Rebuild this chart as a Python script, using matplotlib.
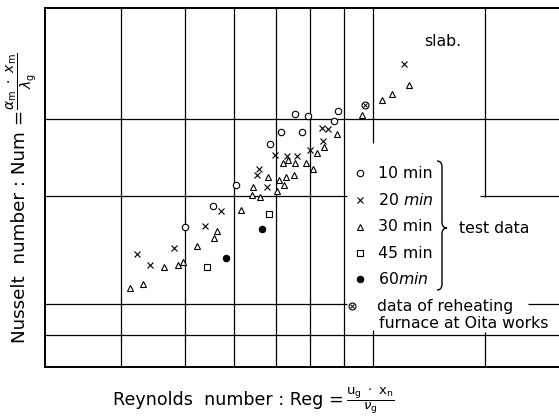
import matplotlib
matplotlib.use("Agg")
import matplotlib.pyplot as plt
from matplotlib.path import Path
from matplotlib.patches import PathPatch
from matplotlib.ticker import NullLocator

# ---------------- data (log-log: Reynolds number vs Nusselt number) ----------------
re_10 = [39800, 45200, 50000, 58100, 61000, 66900, 64900, 68600, 77200, 78600]
nu_10 = [38.2, 46.0, 55.5, 79.8, 89.1, 88.7, 104, 102, 97.4, 107]

re_20 = [32200, 34200, 37900, 43600, 46800, 57300, 54900, 55400, 59400, 62700,
         65400, 69400, 73400, 73000, 75200, 105200]
nu_20 = [30.0, 27.3, 31.8, 38.6, 43.9, 54.7, 60.6, 63.8, 72.4, 71.8,
         71.5, 75.7, 81.9, 91.9, 91.5, 162]

re_30 = [31300, 33100, 36300, 38600, 39600, 42000, 45300, 45900, 51100, 53600,
         55600, 53800, 60000, 61800, 60500, 57700, 62400, 64700, 61600, 63000,
         64900, 68200, 70400, 71600, 73800, 78000, 87200, 95300, 99600, 107500]
nu_30 = [22.2, 23.0, 26.9, 27.3, 28.1, 32.3, 34.8, 37.0, 44.5, 50.8,
         49.8, 54.4, 52.8, 55.5, 58.0, 59.4, 59.4, 60.6, 67.6, 69.3,
         67.3, 67.6, 63.7, 73.9, 77.7, 87.5, 103, 118, 124, 135]

re_45 = [43900, 57900]
nu_45 = [26.8, 42.8]

re_60 = [47800, 56000]
nu_60 = [29.0, 37.6]

re_oita = [88500]
nu_oita = [113]

legend_labels = ["10 min", r"20 $\mathit{min}$", "30 min", "45 min", r"60$\mathit{min}$"]
oita_label = ["data of reheating", "furnace at Oita works"]

# grid lines of the original graph paper
x_grid_full = [30000, 39800, 49600, 59600, 69400, 80600]
y_grid_full = [100, 14.7]
x_lim = (21420, 208960)
y_lim = (11.04, 267.3)

# ---------------- figure ----------------
W, H = 559, 416
fig = plt.figure(figsize=(W / 100, H / 100), dpi=100)
fig.patch.set_facecolor("white")


def fx(px):
    return px / W


def fy(py):
    return 1 - py / H


ax = fig.add_axes([fx(44.7), fy(367.3), fx(559) - fx(44.7), fy(7.5) - fy(367.3)])
ax.set_xscale("log")
ax.set_yscale("log")
ax.set_xlim(*x_lim)
ax.set_ylim(*y_lim)
for loc in (ax.xaxis, ax.yaxis):
    loc.set_major_locator(NullLocator())
    loc.set_minor_locator(NullLocator())
ax.tick_params(length=0, labelbottom=False, labelleft=False)
for s in ("left", "top", "bottom"):
    ax.spines[s].set_linewidth(1.4)
ax.spines["right"].set_visible(False)

glw = 0.9
for xv in x_grid_full:
    ax.axvline(xv, color="black", lw=glw, zorder=1)
for yv in y_grid_full:
    ax.axhline(yv, color="black", lw=glw, zorder=1)
# broken grid lines (interrupted by the legend)
ax.vlines(91600, 80.5, y_lim[1], color="black", lw=glw, zorder=1)
ax.vlines(91600, y_lim[0], 15.4, color="black", lw=glw, zorder=1)
ax.vlines(150500, 49.9, y_lim[1], color="black", lw=glw, zorder=1)
ax.vlines(150500, y_lim[0], 15.1, color="black", lw=glw, zorder=1)
ax.hlines(50.3, x_lim[0], 81700, color="black", lw=glw, zorder=1)
ax.hlines(50.3, 147300, x_lim[1], color="black", lw=glw, zorder=1)
ax.hlines(19.3, x_lim[0], 81700, color="black", lw=glw, zorder=1)
ax.hlines(19.3, 182100, x_lim[1], color="black", lw=glw, zorder=1)

mew = 0.8
ax.plot(re_10, nu_10, ls="none", marker="o", ms=4.6, mfc="white", mec="black", mew=mew, zorder=3)
ax.plot(re_20, nu_20, ls="none", marker="x", ms=4.3, mec="black", mew=mew, zorder=3)
ax.plot(re_30, nu_30, ls="none", marker="^", ms=5.0, mfc="white", mec="black", mew=mew, zorder=3)
ax.plot(re_45, nu_45, ls="none", marker="s", ms=4.3, mfc="white", mec="black", mew=mew, zorder=3)
ax.plot(re_60, nu_60, ls="none", marker="o", ms=4.6, mfc="black", mec="black", mew=mew, zorder=3)
ax.plot(re_oita, nu_oita, ls="none", marker="o", ms=5.0, mfc="white", mec="black", mew=mew, zorder=3)
ax.plot(re_oita, nu_oita, ls="none", marker="x", ms=3.2, mec="black", mew=0.7, zorder=4)

# ---------------- legend (hand placed, as in the original) ----------------
fs = 11.3
rows_y = [173, 200, 227, 253, 279]
styles = [dict(marker="o", ms=4.6, mfc="white"),
          dict(marker="x", ms=4.3),
          dict(marker="^", ms=5.0, mfc="white"),
          dict(marker="s", ms=4.3, mfc="white"),
          dict(marker="o", ms=4.6, mfc="black")]
for lab, yy, st in zip(legend_labels, rows_y, styles):
    fig.lines.append(plt.Line2D([fx(360)], [fy(yy)], transform=fig.transFigure,
                                ls="none", mec="black", mew=mew, **st))
    fig.text(fx(378), fy(yy), lab, fontsize=fs, va="center", ha="left")

fig.lines.append(plt.Line2D([fx(352)], [fy(306)], transform=fig.transFigure, ls="none",
                            marker="o", ms=5.0, mfc="white", mec="black", mew=mew))
fig.lines.append(plt.Line2D([fx(352)], [fy(306)], transform=fig.transFigure, ls="none",
                            marker="x", ms=3.2, mec="black", mew=0.7))
fig.text(fx(377), fy(306), oita_label[0], fontsize=fs, va="center", ha="left")
fig.text(fx(379), fy(324), oita_label[1], fontsize=fs, va="center", ha="left")

# brace
bx, top, mid, bot = 442, 161, 228, 290
verts = [(bx - 5, top), (bx, top), (bx, top + 6),
         (bx, mid - 6),
         (bx, mid), (bx + 5, mid),
         (bx, mid), (bx, mid + 6),
         (bx, bot - 6),
         (bx, bot), (bx - 5, bot)]
codes = [Path.MOVETO, Path.CURVE3, Path.CURVE3, Path.LINETO,
         Path.CURVE3, Path.CURVE3, Path.CURVE3, Path.CURVE3,
         Path.LINETO, Path.CURVE3, Path.CURVE3]
verts = [(fx(a), fy(b)) for a, b in verts]
fig.patches.append(PathPatch(Path(verts, codes), transform=fig.transFigure,
                             fill=False, lw=1.0, color="black"))
fig.text(fx(459), fy(228), "test data", fontsize=fs, va="center", ha="left")

fig.text(fx(424), fy(42), "slab.", fontsize=fs, va="center", ha="left")

# axis labels (main text + fraction as separate pieces)
fig.text(fx(113), fy(400), "Reynolds  number : Reg =",
         fontsize=12.6, va="center", ha="left")
fig.text(fx(346), fy(401),
         r"$\dfrac{\mathrm{u_g}\ \cdot\ \mathrm{x_n}}{\nu_\mathrm{g}}$",
         fontsize=9.5, va="center", ha="left")

fig.text(fx(20), fy(343), "Nusselt  number : Num =",
         fontsize=13.2, va="center", ha="left", rotation=90, rotation_mode="anchor")
fig.text(fx(22), fy(110),
         r"$\dfrac{\alpha_\mathrm{m}\ \cdot\ x_\mathrm{m}}{\lambda_\mathrm{g}}$",
         fontsize=10, va="center", ha="left", rotation=90, rotation_mode="anchor")

fig.savefig("out.png", dpi=100, facecolor="white")
